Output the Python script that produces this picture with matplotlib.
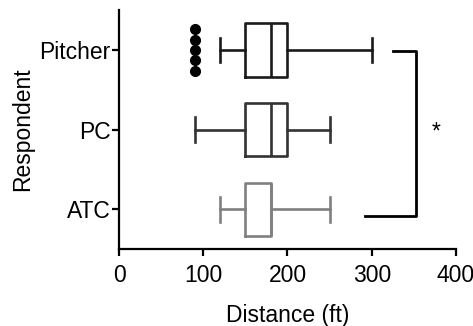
import matplotlib
matplotlib.use("Agg")
import matplotlib.pyplot as plt

plt.rcParams['font.family'] = ['Liberation Sans', 'DejaVu Sans']

groups = ['ATC', 'PC', 'Pitcher']
whislo = [120, 90, 120]
q1 = [150, 150, 150]
med = [180, 180, 180]
q3 = [180, 200, 200]
whishi = [250, 250, 300]
colors = ['#808080', '#333333', '#1a1a1a']
pitcher_outliers = [90, 90, 90, 90, 90]

fig = plt.figure(figsize=(4.73, 3.26), dpi=100)
ax = fig.add_axes([0.2516, 0.236, 0.7124, 0.733])

for i, g in enumerate(groups):
    st = [dict(whislo=whislo[i], q1=q1[i], med=med[i], q3=q3[i],
               whishi=whishi[i], fliers=[], label=g)]
    lp = dict(color=colors[i], linewidth=1.9)
    ax.bxp(st, positions=[i], widths=0.67, capwidths=0.31,
           orientation='horizontal', showfliers=False,
           boxprops=lp, whiskerprops=lp, capprops=lp, medianprops=lp)

# stacked outliers for Pitcher
n = len(pitcher_outliers)
offs = [(k - (n - 1) / 2) * 0.13 for k in range(n)]
ax.plot(pitcher_outliers, [2 + o for o in offs], 'o', color='black',
        markersize=7, zorder=3)

# significance bracket
ax.plot([325, 352, 352, 292], [1.99, 1.99, -0.09, -0.09], color='black',
        linewidth=2, clip_on=False)
ax.text(377, 0.97, '*', fontsize=16.5, ha='center', va='center')

ax.set_xlim(0, 400)
ax.set_ylim(-0.5, 2.5)
ax.set_xticks([0, 100, 200, 300, 400])
ax.set_yticks([0, 1, 2])
ax.set_yticklabels(groups)
ax.spines['top'].set_visible(False)
ax.spines['right'].set_visible(False)
for s in ['left', 'bottom']:
    ax.spines[s].set_linewidth(1.6)
ax.tick_params(width=1.6, length=5, labelsize=16.5, colors='black')
ax.tick_params(axis='x', pad=6)
ax.tick_params(axis='y', pad=1)
ax.set_xlabel('Distance (ft)', fontsize=16.5, labelpad=12)
ax.set_ylabel('Respondent', fontsize=16.5, labelpad=4)

fig.savefig('out.png', dpi=100)
